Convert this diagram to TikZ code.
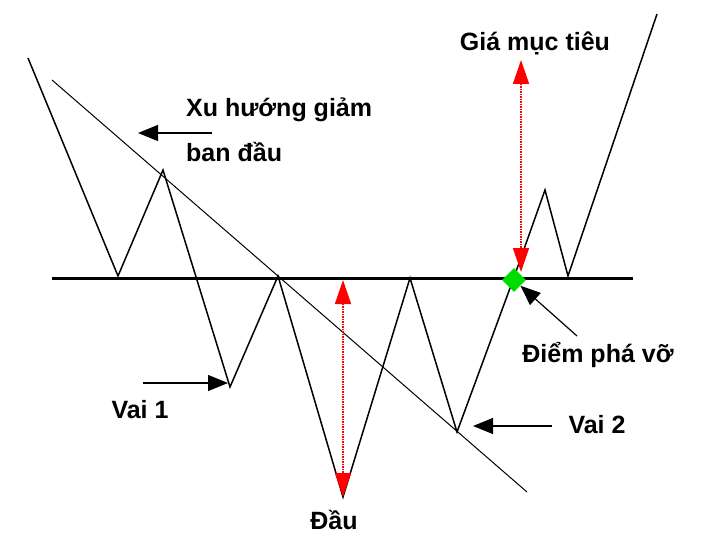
\documentclass[tikz,border=0pt]{standalone}
\usepackage{fontspec}
\setmainfont{Liberation Sans}
\usetikzlibrary{arrows.meta,shapes.geometric}
\begin{document}
\begin{tikzpicture}[x=1pt,y=-1pt,
  lbl/.style={font=\bfseries\fontsize{25}{30}\selectfont, inner sep=0pt},
  blk/.style={line width=1.2pt,-{Triangle[length=20pt,width=16pt]}},
  redarr/.style={red,densely dotted,line width=1.5pt,{Triangle[length=24pt,width=16pt,red]}-{Triangle[length=24pt,width=16pt,red]}}]
\useasboundingbox (0,0) rectangle (717,556);
\coordinate (p0) at (28,58); \coordinate (p1) at (118,276); \coordinate (p2) at (163,170);
\coordinate (p3) at (230,387); \coordinate (p4) at (278,276); \coordinate (p5) at (343,497);
\coordinate (p6) at (410,278); \coordinate (p7) at (457,432); \coordinate (p8) at (513,280);
\coordinate (p9) at (545,190); \coordinate (p10) at (568,276); \coordinate (p11) at (657,14);
\draw[line width=1.5pt] (p0)--(p1)--(p2)--(p3)--(p4)--(p5)--(p6)--(p7)--(p8)--(p9)--(p10)--(p11);
\coordinate (n1) at (52,278); \coordinate (n2) at (633,278);
\draw[line width=3pt] (n1)--(n2);
\coordinate (t1) at (52,80); \coordinate (t2) at (527,492);
\draw[line width=1pt] (t1)--(t2);
\node[lbl,anchor=west] (xu) at (186,110) {Xu hướng giảm};
\node[lbl,anchor=west] (ban) at (186,152) {ban đầu};
\coordinate (a1) at (212,133); \coordinate (a2) at (138,133);
\draw[blk] (a1)--(a2);
\node[lbl] (v1) at (140,410) {Vai 1};
\coordinate (b1) at (143,383); \coordinate (b2) at (228,383);
\draw[blk] (b1)--(b2);
\node[lbl] (v2) at (597,425) {Vai 2};
\coordinate (c1) at (552,426); \coordinate (c2) at (473,426);
\draw[blk] (c1)--(c2);
\node[lbl] (dau) at (334,520) {Đầu};
\coordinate (r1) at (343,280); \coordinate (r2) at (343,497);
\draw[redarr] (r1)--(r2);
\node[lbl] (gia) at (535,43) {Giá mục tiêu};
\coordinate (g1) at (521,60); \coordinate (g2) at (521,272);
\draw[redarr] (g1)--(g2);
\node[diamond,fill=green!80!black!70!green,minimum size=24pt,inner sep=0pt] (bp) at (514,280) {};
\node[lbl] (diem) at (598,355) {Điểm phá vỡ};
\coordinate (d1) at (577,336);
\draw[blk] (d1)--(bp);
\end{tikzpicture}
\end{document}
